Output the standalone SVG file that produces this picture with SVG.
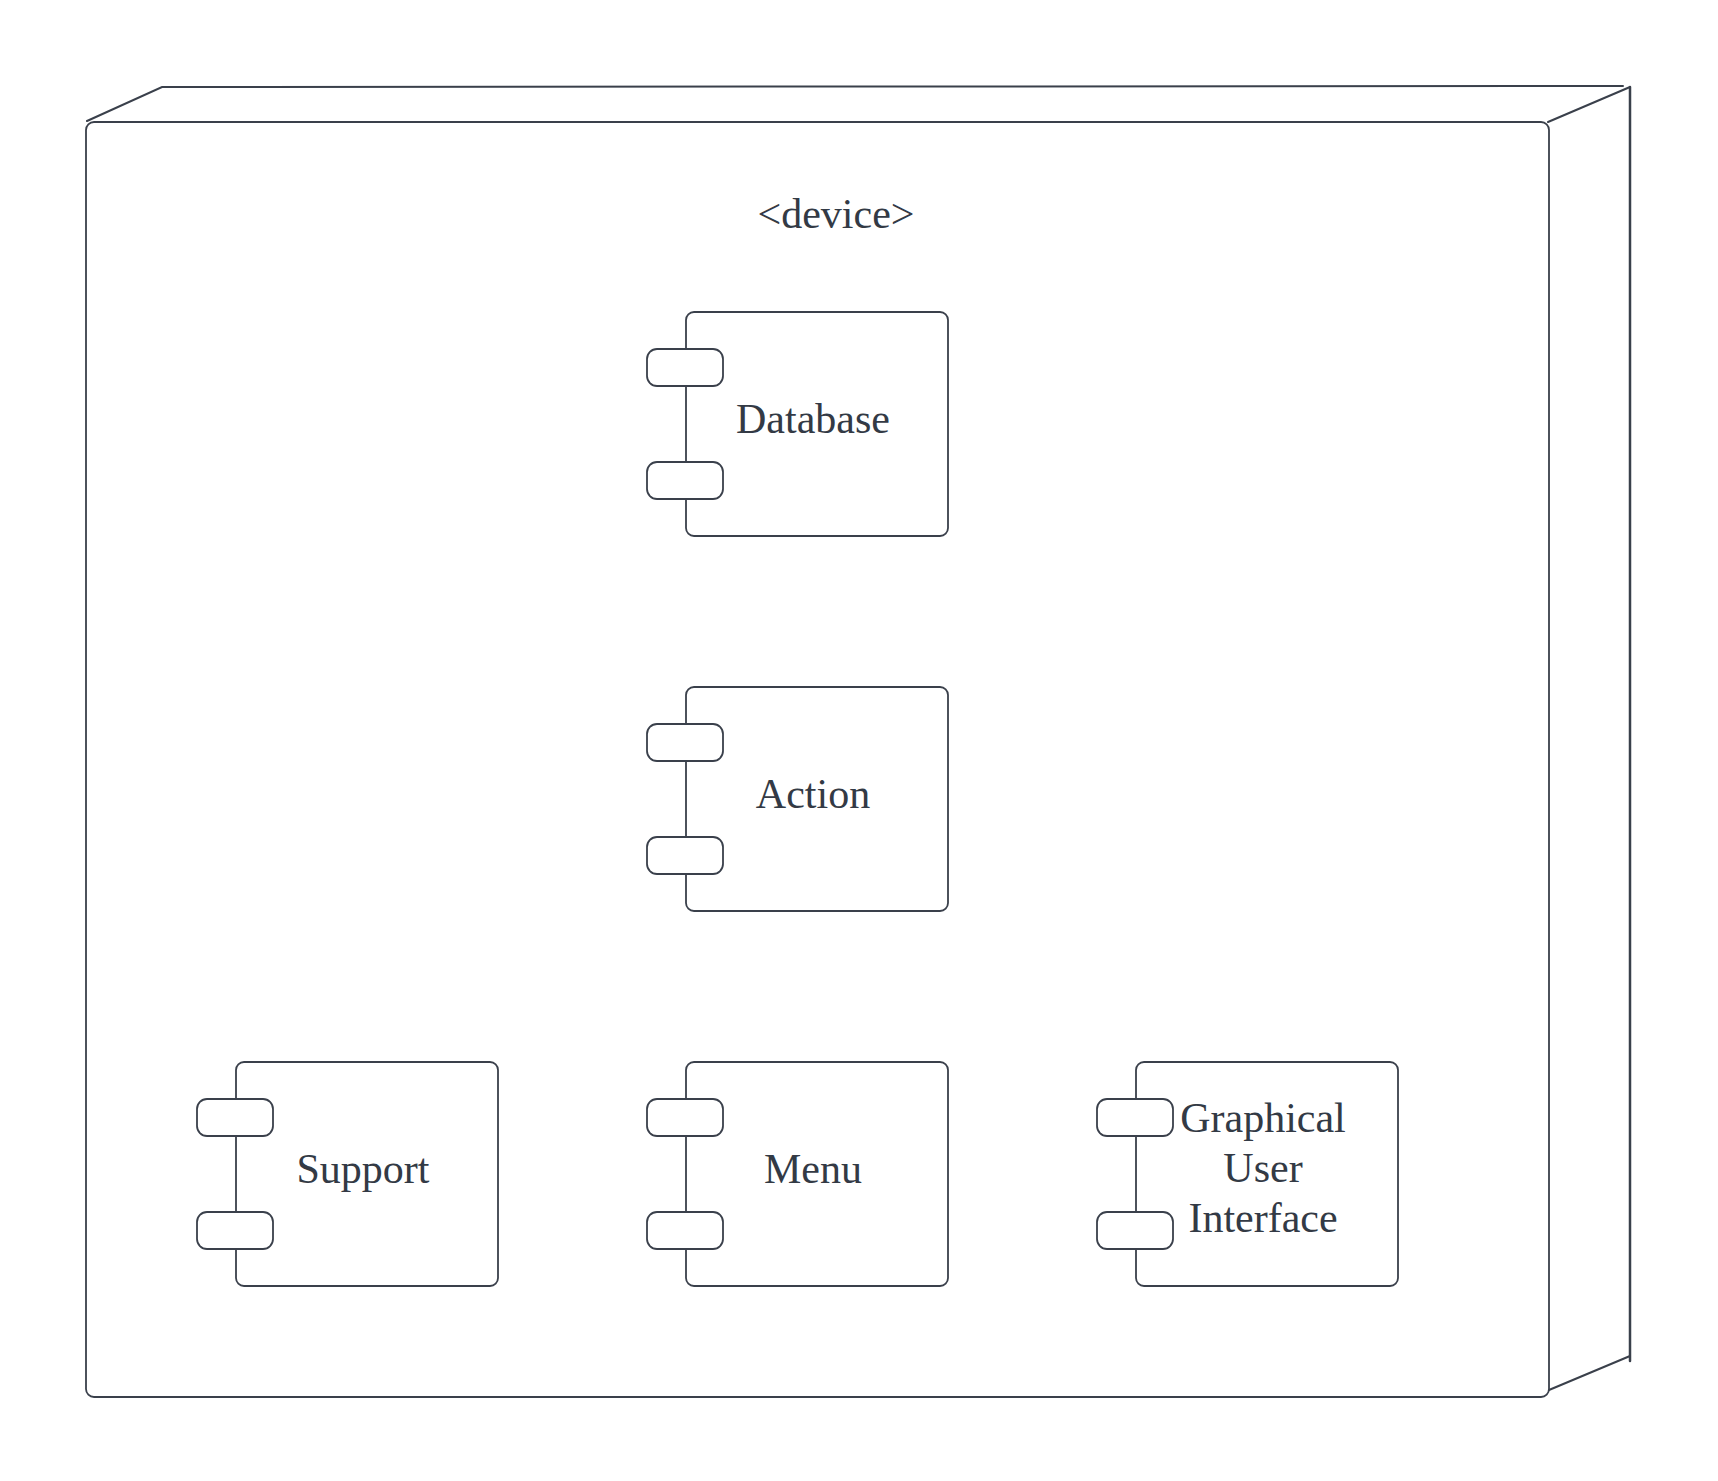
<svg xmlns="http://www.w3.org/2000/svg" width="1718" height="1481" viewBox="0 0 1718 1481">
<style>
.ln{fill:none;stroke:#3a404b;stroke-width:2;stroke-linecap:round}
.box{fill:#ffffff;stroke:#3a404b;stroke-width:1.8}
.port{fill:#ffffff;stroke:#3a404b;stroke-width:1.8}
.t{font-family:"Liberation Serif",serif;font-size:42px;fill:#333a45;text-anchor:middle}
</style>
<defs>
<g id="comp">
<rect class="box" x="0" y="0" width="262" height="224" rx="8"/>
<rect class="port" x="-39" y="37" width="76" height="37" rx="10"/>
<rect class="port" x="-39" y="150" width="76" height="37" rx="10"/>
</g>
</defs>
<rect width="1718" height="1481" fill="#ffffff"/>
<g id="device">
<path class="ln" d="M87 121 L162 87 L1623 86"/>
<path class="ln" d="M1548 122 L1630 87"/>
<path class="ln" d="M1630 87 L1630 1361" style="stroke-width:2.5"/>
<path class="ln" d="M1549 1390 L1630 1356"/>
<rect class="box" x="86" y="122" width="1463" height="1275" rx="8"/>
<text class="t" x="836" y="228">&lt;device&gt;</text>
</g>
<g id="database">
<use href="#comp" x="686" y="312"/>
<text class="t" x="813" y="433">Database</text>
</g>
<g id="action">
<use href="#comp" x="686" y="687"/>
<text class="t" x="813" y="808">Action</text>
</g>
<g id="support">
<use href="#comp" x="236" y="1062"/>
<text class="t" x="363" y="1183">Support</text>
</g>
<g id="menu">
<use href="#comp" x="686" y="1062"/>
<text class="t" x="813" y="1183">Menu</text>
</g>
<g id="gui">
<use href="#comp" x="1136" y="1062"/>
<text class="t" x="1263" y="1132">Graphical</text>
<text class="t" x="1263" y="1182">User</text>
<text class="t" x="1263" y="1232">Interface</text>
</g>
<g id="connectors"></g>
</svg>
